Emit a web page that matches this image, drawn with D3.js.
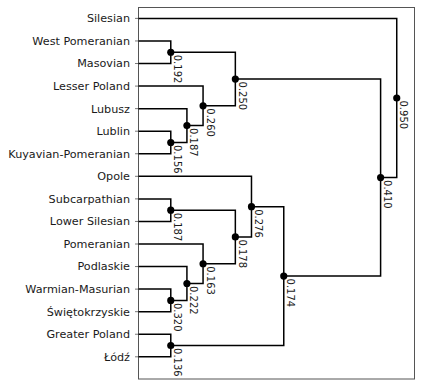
<!DOCTYPE html>
<html>
<head>
<meta charset="utf-8">
<script src="https://cdn.jsdelivr.net/npm/d3@7"></script>
<style>
  body { margin: 0; background: white; }
  text { font-family: "DejaVu Sans", sans-serif; }
</style>
</head>
<body>
<svg class="canvas"></svg>
<script>
// leaves, top to bottom
let leaves = ["Silesian", "West Pomeranian", "Masovian", "Lesser Poland", "Lubusz", "Lublin",
  "Kuyavian-Pomeranian", "Opole", "Subcarpathian", "Lower Silesian", "Pomeranian", "Podlaskie",
  "Warmian-Masurian", "Świętokrzyskie", "Greater Poland", "Łódź"];

// merges: ids >= 16 point to earlier merges (like a linkage matrix)
let mergeLeft   = [1, 5, 4, 3, 16, 8, 12, 11, 10, 21, 7, 14, 26, 20, 0];
let mergeRight  = [2, 6, 17, 18, 19, 9, 13, 22, 23, 24, 25, 15, 27, 28, 29];
let mergeHeight = [2, 2, 3, 4, 6, 2, 2, 3, 4, 6, 7, 2, 9, 15, 16];
let mergeLabel  = ["0.192", "0.156", "0.187", "0.260", "0.250", "0.187", "0.320", "0.222",
  "0.163", "0.178", "0.276", "0.136", "0.174", "0.410", "0.950"];

//params
let width = 423;
let height = 386;
let plotLeft = 138.5, plotRight = 414.5, plotTop = 7.5, plotBottom = 379;

let svg = d3.select(".canvas").attr("width", width).attr("height", height);

// build tree
let nodes = leaves.map((name, i) => ({name: name, idx: i, height: 0}));
for (let i = 0; i < mergeLeft.length; i++) {
  nodes.push({
    height: mergeHeight[i],
    label: mergeLabel[i],
    children: [nodes[mergeLeft[i]], nodes[mergeRight[i]]]
  });
}
let root = d3.hierarchy(nodes[nodes.length - 1]);

let x = d3.scaleLinear().domain([0, 17.1]).range([plotLeft, plotRight]);
let yLeaf = d3.scaleLinear().domain([0, leaves.length - 1]).range([18.4, 356.8]);

// y of each node = mean of its children's y
root.eachAfter(function(d) {
  if (d.children) d.py = d3.mean(d.children, c => c.py);
  else d.py = yLeaf(d.data.idx);
  d.px = x(d.data.height);
});

// frame
svg.append("rect")
  .attr("x", plotLeft).attr("y", plotTop)
  .attr("width", plotRight - plotLeft).attr("height", plotBottom - plotTop)
  .attr("fill", "none").attr("stroke", "#555").attr("stroke-width", 1);

// ticks + labels
let ax = svg.append("g");
ax.selectAll("line").data(leaves).enter().append("line")
  .attr("x1", plotLeft - 3.5).attr("x2", plotLeft)
  .attr("y1", (d, i) => yLeaf(i)).attr("y2", (d, i) => yLeaf(i))
  .attr("stroke", "#555").attr("stroke-width", 0.8);
ax.selectAll("text").data(leaves).enter().append("text")
  .attr("x", plotLeft - 8.5)
  .attr("y", (d, i) => yLeaf(i))
  .attr("dy", "0.35em")
  .attr("text-anchor", "end")
  .attr("font-size", "11.2px")
  .attr("fill", "#1a1a1a")
  .text(d => d);

// branches
let internal = root.descendants().filter(d => d.children);
svg.append("g").selectAll("path").data(internal).enter().append("path")
  .attr("d", function(d) {
    let a = d.children[0], b = d.children[1];
    return "M" + a.px + "," + a.py + "H" + d.px + "V" + b.py + "H" + b.px;
  })
  .attr("fill", "none")
  .attr("stroke", "black")
  .attr("stroke-width", 1.5);

// dots
svg.append("g").selectAll("circle").data(internal).enter().append("circle")
  .attr("cx", d => d.px).attr("cy", d => d.py)
  .attr("r", 3.6).attr("fill", "black");

// node labels, rotated
svg.append("g").selectAll("text").data(internal).enter().append("text")
  .attr("transform", d => "translate(" + (d.px + 3.5) + "," + (d.py + 2.5) + ") rotate(90)")
  .attr("font-size", "10px")
  .attr("fill", "#1a1a1a")
  .text(d => d.data.label);
</script>
</body>
</html>
